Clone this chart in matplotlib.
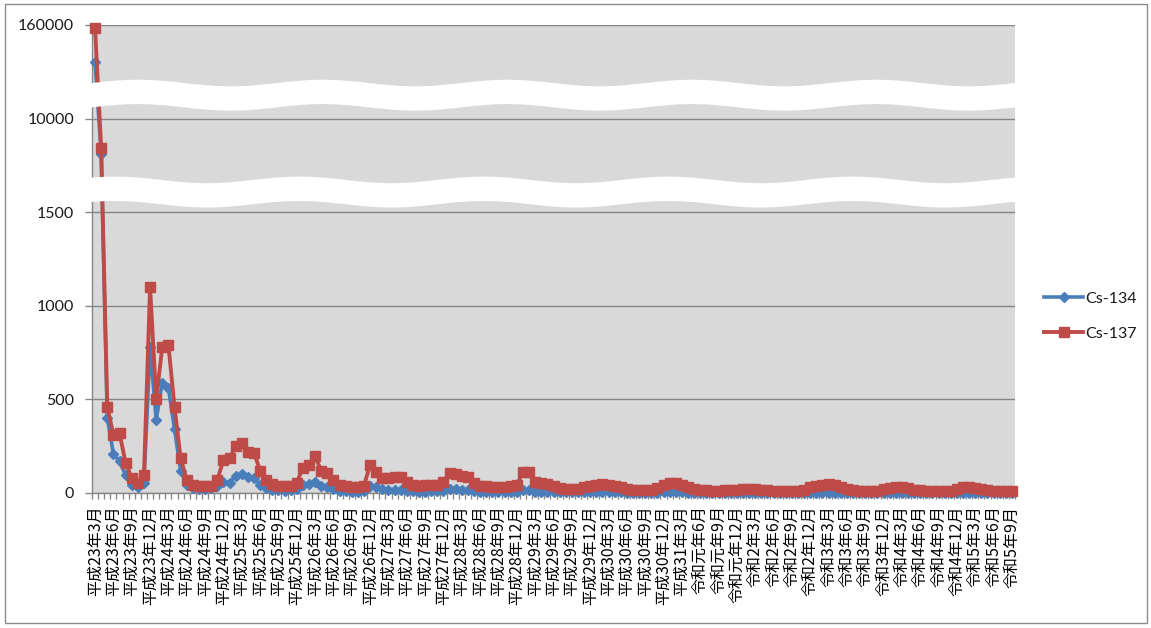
import numpy as np
import matplotlib
matplotlib.use("Agg")
import matplotlib.pyplot as plt
from matplotlib.patches import Polygon, Rectangle

plt.rcParams['font.family'] = ['Lato', 'Noto Sans CJK JP', 'DejaVu Sans']

# Monthly readings, 2011-03 .. 2023-09 (one row per Mar..Feb year)
cs137 = [
    155000, 7300, 460, 310, 320, 160, 80, 55, 95, 1100, 500, 780,
    790, 460, 185, 70, 45, 35, 35, 40, 70, 175, 185, 250,
    265, 220, 215, 120, 70, 50, 40, 35, 40, 55, 135, 150,
    195, 120, 105, 70, 45, 35, 30, 30, 40, 150, 110, 80,
    80, 85, 85, 60, 45, 40, 42, 45, 45, 60, 105, 100,
    90, 85, 55, 40, 35, 30, 30, 32, 35, 45, 110, 110,
    60, 55, 50, 35, 25, 22, 20, 22, 30, 40, 45, 48,
    45, 40, 30, 22, 18, 16, 16, 18, 25, 45, 55, 55,
    45, 30, 20, 15, 14, 13, 13, 14, 15, 18, 20, 22,
    22, 18, 15, 13, 12, 12, 12, 13, 15, 30, 40, 45,
    48, 42, 30, 20, 15, 12, 12, 12, 13, 20, 28, 32,
    32, 25, 18, 14, 12, 11, 11, 11, 13, 22, 30, 32,
    28, 20, 14, 12, 11, 11, 12,
]

cs134 = [
    100000, 6800, 400, 210, 170, 95, 45, 30, 55, 780, 390, 590,
    560, 340, 120, 45, 28, 20, 20, 25, 35, 60, 55, 90,
    100, 85, 80, 45, 25, 18, 15, 12, 15, 20, 45, 50,
    60, 35, 30, 20, 13, 10, 8, 8, 10, 40, 30, 20,
    18, 18, 18, 12, 9, 8, 8, 9, 9, 12, 20, 20,
    15, 14, 9, 6, 5, 4, 4, 5, 5, 6, 15, 14,
    8, 7, 6, 4, 3, 3, 3, 3, 4, 5, 5, 5,
    4, 4, 3, 2, 2, 2, 2, 2, 2, 3, 4, 4,
    3, 2, 2, 1, 1, 1, 1, 1, 1, 1, 1, 1,
    1, 1, 1, 1, 1, 1, 1, 1, 1, 1, 1, 1,
    1, 1, 1, 1, 1, 1, 1, 1, 1, 1, 1, 1,
    1, 1, 1, 1, 1, 1, 1, 1, 1, 1, 1, 1,
    1, 1, 1, 1, 1, 1, 1,
]

# Quarterly category labels (every third month)
quarter_labels = [
    "平成23年3月", "平成23年6月", "平成23年9月", "平成23年12月",
    "平成24年3月", "平成24年6月", "平成24年9月", "平成24年12月",
    "平成25年3月", "平成25年6月", "平成25年9月", "平成25年12月",
    "平成26年3月", "平成26年6月", "平成26年9月", "平成26年12月",
    "平成27年3月", "平成27年6月", "平成27年9月", "平成27年12月",
    "平成28年3月", "平成28年6月", "平成28年9月", "平成28年12月",
    "平成29年3月", "平成29年6月", "平成29年9月", "平成29年12月",
    "平成30年3月", "平成30年6月", "平成30年9月", "平成30年12月",
    "平成31年3月", "令和元年6月", "令和元年9月", "令和元年12月",
    "令和2年3月", "令和2年6月", "令和2年9月", "令和2年12月",
    "令和3年3月", "令和3年6月", "令和3年9月", "令和3年12月",
    "令和4年3月", "令和4年6月", "令和4年9月", "令和4年12月",
    "令和5年3月", "令和5年6月", "令和5年9月",
]

y_ticks = [0, 500, 1000, 1500, 10000, 160000]
series_names = ["Cs-134", "Cs-137"]

# Broken value axis: each tick step takes equal height
brk_vals = [0, 1500, 10000, 160000]
brk_pos = [0, 3, 4, 5]


def fwd(v):
    return np.interp(v, brk_vals, brk_pos)


def inv(p):
    return np.interp(p, brk_pos, brk_vals)


W, H = 1151, 628
fig = plt.figure(figsize=(W / 100, H / 100), dpi=100)
ax = fig.add_axes([92 / W, 1 - 493 / H, (1015 - 92) / W, (493 - 25) / H])
ax.set_facecolor('#d9d9d9')

n = len(cs137)
x = np.arange(n)

ax.set_yscale('function', functions=(fwd, inv))
ax.set_ylim(0, 160000)
ax.set_xlim(-0.5, n - 0.5)

ax.set_yticks(y_ticks)
ax.set_yticklabels([str(v) for v in y_ticks])
ax.yaxis.set_minor_locator(matplotlib.ticker.NullLocator())
ax.tick_params(axis='y', which='major', length=5, width=1, color='#868686',
               pad=8, labelsize=11.5, labelcolor='#1a1a1a')

ax.set_xticks(np.arange(0, n, 3))
ax.set_xticklabels(quarter_labels, rotation=90, fontfamily=['Noto Sans CJK JP', 'DejaVu Sans'],
                   fontsize=11.5, color='black')
ax.set_xticks(np.arange(-0.5, n, 1), minor=True)
ax.tick_params(axis='x', which='major', length=0, pad=9)
ax.tick_params(axis='x', which='minor', length=4, width=1, color='#868686')

ax.yaxis.grid(True, color='#868686', lw=1.0)
ax.set_axisbelow(True)
for side in ('top', 'right'):
    ax.spines[side].set_visible(False)
for side in ('left', 'bottom'):
    ax.spines[side].set_color('#868686')
    ax.spines[side].set_linewidth(1.0)

ax.plot(x, cs134, color='#4A7EBB', lw=2.6, marker='D', ms=5,
        mfc='#4A7EBB', mec='#4A7EBB', zorder=3, clip_on=False, label=series_names[0])
ax.plot(x, cs137, color='#BE4B48', lw=2.8, marker='s', ms=7.5,
        mfc='#BE4B48', mec='#BE4B48', zorder=4, clip_on=False, label=series_names[1])

# White wavy bands marking the axis breaks
xs = np.linspace(-0.006, 1.0, 500)
for centre, phase in ((0.850, 0.0), (0.643, 0.8)):
    wave = 0.007 * np.sin(2 * np.pi * xs / 0.2 + phase)
    half = 0.026
    top = centre + half + wave
    bot = centre - half + wave
    pts = np.column_stack([np.concatenate([xs, xs[::-1]]),
                           np.concatenate([top, bot[::-1]])])
    ax.add_patch(Polygon(pts, closed=True, transform=ax.transAxes,
                         facecolor='white', edgecolor='none', zorder=10, clip_on=False))

fig.legend(loc='center left', bbox_to_anchor=(1030 / W, 1 - 316 / H), frameon=False,
           fontsize=11.5, handlelength=2.4, handletextpad=0.15, labelspacing=1.3,
           labelcolor='#1a1a1a')

fig.add_artist(Rectangle((5 / W, 1 - 623 / H), 1142 / W, 619 / H, transform=fig.transFigure,
                         fill=False, edgecolor='#8c8c8c', lw=1.0))

fig.savefig('out.png', dpi=100)
